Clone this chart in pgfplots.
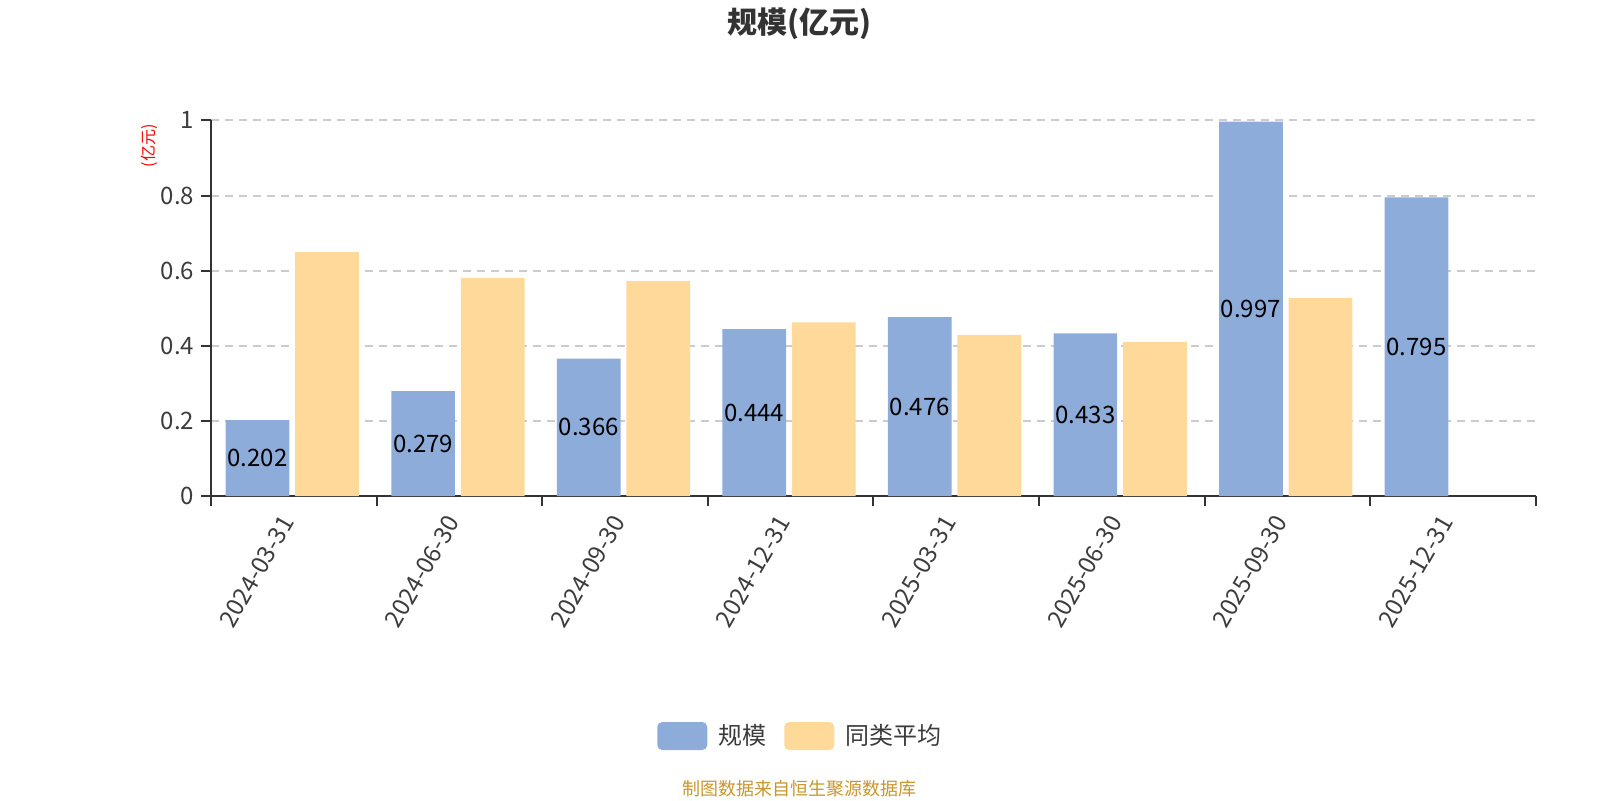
\documentclass[border=0pt]{standalone}
\usepackage{pgfplots}
\pgfplotsset{compat=1.18}
\usepackage{pgfplotstable}
\usepackage{fontspec}
\setmainfont{Noto Sans CJK SC}
\definecolor{blueC}{HTML}{8EACDA}
\definecolor{orangeC}{HTML}{FFD999}
\definecolor{axisC}{HTML}{333333}
\definecolor{tickC}{HTML}{3C3C3C}
\definecolor{gridC}{HTML}{CCCCCC}
\definecolor{srcC}{HTML}{C8962D}

\pgfplotstableread{
x y lab
0 0.202 0.202
1 0.279 0.279
2 0.366 0.366
3 0.444 0.444
4 0.476 0.476
5 0.433 0.433
6 0.997 0.997
7 0.795 0.795
}\blueT
\pgfplotstableread{
x y
0 0.649
1 0.581
2 0.573
3 0.462
4 0.429
5 0.410
6 0.527
}\orangeT

\begin{document}
\begin{tikzpicture}
\useasboundingbox (0pt,0pt) rectangle (800pt,400pt);
\begin{axis}[
  at={(105.6pt,152pt)}, anchor=south west,
  scale only axis, width=662.25pt, height=187.8pt,
  xmin=-0.5, xmax=7.5, ymin=0, ymax=1,
  axis lines*=left,
  axis line style={-, draw=axisC, line width=1pt},
  tick align=outside,
  major tick length=5pt,
  tick style={draw=axisC, line width=1pt},
  ytick={0,0.2,0.4,0.6,0.8,1},
  yticklabels={0,0.2,0.4,0.6,0.8,1},
  xtick={-0.5,0.5,1.5,2.5,3.5,4.5,5.5,6.5,7.5},
  xticklabels={},
  extra x ticks={0,1,2,3,4,5,6,7},
  extra x tick labels={2024-03-31,2024-06-30,2024-09-30,2024-12-31,2025-03-31,2025-06-30,2025-09-30,2025-12-31},
  extra x tick style={major tick length=0pt, xticklabel style={xshift=-1.5pt, yshift=-8pt, rotate=60, anchor=east}},
  ticklabel style={font=\fontsize{12}{14}\selectfont, text=tickC},
  /pgf/number format/assume math mode=true,
  ymajorgrids,
  grid style={draw=gridC, line width=1pt, dash pattern=on 4pt off 3pt},
  ylabel={(亿元)},
  ylabel style={at={(axis description cs:-0.047,0.932)}, anchor=center, rotate=0, font=\fontsize{8}{10}\selectfont, text=red},
  legend style={at={(0.4455,-0.639)}, anchor=center, draw=none, fill=none,
    legend columns=-1, font=\fontsize{12}{14}\selectfont, text=tickC,
    /tikz/every odd column/.append style={column sep=3.5pt},
    /tikz/every even column/.append style={column sep=7pt}},
  legend cell align=left,
]
\addplot[ybar, bar width=0.385, bar shift=-0.22, fill=blueC, draw=none,
  point meta=explicit symbolic, nodes near coords,
  visualization depends on={rawy \as \rawy},
  nodes near coords style={anchor=center, xshift=-18.2pt, yshift={-\rawy*93.9pt}, font=\fontsize{12}{14}\selectfont, text=black},
  legend image code/.code={\fill[blueC, rounded corners=2.5pt] (0pt,-7pt) rectangle (25pt,7pt);}
] table[x=x, y=y, meta=lab]{\blueT};
\addlegendentry{规模}
\addplot[ybar, bar width=0.385, bar shift=0.2, fill=orangeC, draw=none,
  legend image code/.code={\fill[orangeC, rounded corners=2.5pt] (0pt,-7pt) rectangle (25pt,7pt);}
] table[x=x, y=y]{\orangeT};
\addlegendentry{同类平均}
\end{axis}
\node[font=\fontsize{15}{18}\selectfont\bfseries, text=axisC] at (399.5pt,388pt) {规模(亿元)};
\node[font=\fontsize{9}{11}\selectfont, text=srcC] at (399.5pt,5.5pt) {制图数据来自恒生聚源数据库};
\end{tikzpicture}
\end{document}
